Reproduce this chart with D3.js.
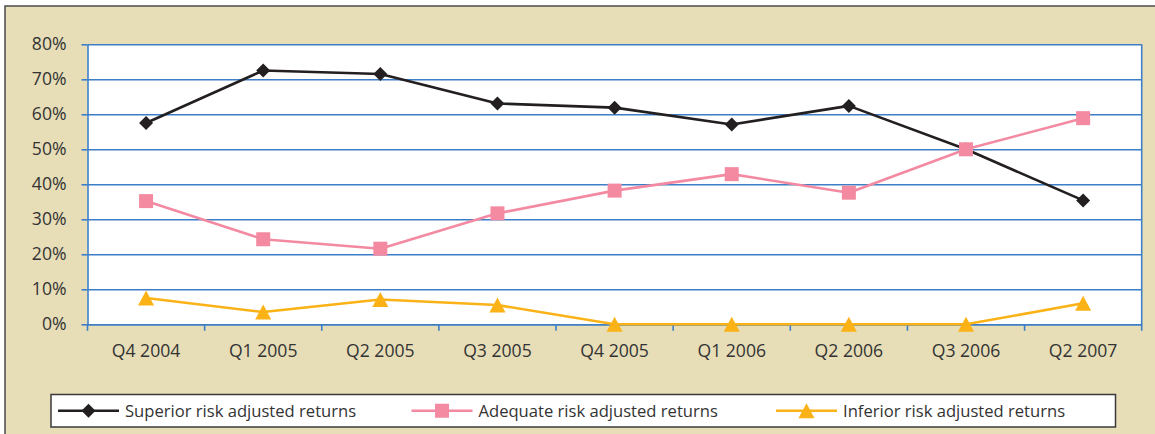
<!DOCTYPE html>
<html>
<head>
<meta charset="utf-8">
<script src="https://cdn.jsdelivr.net/npm/d3@7"></script>
<style>
  html, body { margin: 0; padding: 0; background: #ffffff; }
  svg { display: block; }
  text { font-family: "Open Sans", "Noto Sans", sans-serif; fill: #333333; }
</style>
</head>
<body>
<svg id="chart" width="1155" height="434"></svg>
<script>
// Quarterly share of funds by risk-adjusted return group (percent)
const categories = ["Q4 2004", "Q1 2005", "Q2 2005", "Q3 2005", "Q4 2005", "Q1 2006", "Q2 2006", "Q3 2006", "Q2 2007"];
const superior = [57.5, 72.5, 71.5, 63.1, 61.9, 57.1, 62.4, 50.0, 35.4];
const adequate = [35.2, 24.3, 21.6, 31.7, 38.2, 42.9, 37.6, 50.0, 58.9];
const inferior = [7.5, 3.5, 7.1, 5.5, 0, 0, 0, 0, 6.0];
const seriesNames = ["Superior risk adjusted returns", "Adequate risk adjusted returns", "Inferior risk adjusted returns"];
const yTicks = [0, 10, 20, 30, 40, 50, 60, 70, 80];

const svg = d3.select("#chart");

// frame
const frame = { x: 5, y: 6 };
svg.append("rect")
  .attr("x", frame.x).attr("y", frame.y)
  .attr("width", 1155 - frame.x + 2).attr("height", 434 - frame.y + 2)
  .attr("fill", "#e7deb8")
  .attr("stroke", "#4a4a4a").attr("stroke-width", 1.5);

// plot area
const plot = { left: 87.5, right: 1141.7, top: 44.3, bottom: 324.3 };

const x = d3.scaleBand().domain(categories).range([plot.left, plot.right]).padding(0);
const y = d3.scaleLinear().domain([0, 80]).range([plot.bottom, plot.top]);

svg.append("rect")
  .attr("x", plot.left).attr("y", plot.top)
  .attr("width", plot.right - plot.left).attr("height", plot.bottom - plot.top)
  .attr("fill", "#ffffff");

const gridColor = "#3d7fc6";
const axisFont = 17.6;

// horizontal gridlines
svg.append("g")
  .attr("transform", `translate(${plot.left},0)`)
  .call(d3.axisLeft(y).tickValues(yTicks).tickSizeInner(-(plot.right - plot.left)).tickSizeOuter(0).tickFormat(""))
  .call(g => g.select(".domain").remove())
  .call(g => g.selectAll("line").attr("stroke", gridColor).attr("stroke-width", 1.6));

// y axis with outward ticks and labels
svg.append("g")
  .attr("transform", `translate(${plot.left},0)`)
  .call(d3.axisLeft(y).tickValues(yTicks).tickSizeInner(6).tickSizeOuter(0).tickPadding(15).tickFormat(d => d + "%"))
  .call(g => g.select(".domain").attr("stroke", gridColor).attr("stroke-width", 1.6))
  .call(g => g.selectAll("line").attr("stroke", gridColor).attr("stroke-width", 1.6))
  .call(g => g.selectAll("text").attr("font-size", axisFont).attr("font-family", null).attr("fill", "#333333"));

// right border of plot area
svg.append("line")
  .attr("x1", plot.right).attr("x2", plot.right)
  .attr("y1", plot.top).attr("y2", plot.bottom)
  .attr("stroke", gridColor).attr("stroke-width", 1.6);

// x axis: labels centred on categories, ticks on category boundaries
const xAxis = svg.append("g")
  .attr("transform", `translate(0,${plot.bottom})`)
  .call(d3.axisBottom(x).tickSizeInner(0).tickSizeOuter(0).tickPadding(20.5))
  .call(g => g.select(".domain").attr("stroke", gridColor).attr("stroke-width", 1.6))
  .call(g => g.selectAll("text").attr("font-size", axisFont).attr("font-family", null).attr("fill", "#333333"));

const boundaries = categories.map(c => x(c)).concat([x.range()[1]]);
xAxis.selectAll("line.boundary")
  .data(boundaries)
  .join("line")
  .attr("class", "boundary")
  .attr("x1", d => d).attr("x2", d => d)
  .attr("y1", 0).attr("y2", 6.5)
  .attr("stroke", gridColor).attr("stroke-width", 1.6);

// marker shapes
const shapes = {
  diamond: s => `M0,${-s}L${s},0L0,${s}L${-s},0Z`,
  square: s => `M${-s},${-s}H${s}V${s}H${-s}Z`,
  triangle: s => `M0,${-s}L${s * 1.07},${s}L${-s * 1.07},${s}Z`
};

const series = [
  { name: seriesNames[0], values: superior, color: "#231f20", shape: "diamond", size: 7 },
  { name: seriesNames[1], values: adequate, color: "#f38aa1", shape: "square", size: 7 },
  { name: seriesNames[2], values: inferior, color: "#fbb216", shape: "triangle", size: 7.5 }
];

const line = d3.line()
  .x((d, i) => x(categories[i]) + x.bandwidth() / 2)
  .y(d => y(d));

series.forEach(s => {
  const g = svg.append("g");
  g.append("path")
    .attr("d", line(s.values))
    .attr("fill", "none")
    .attr("stroke", s.color)
    .attr("stroke-width", 2.6)
    .attr("stroke-linejoin", "round");
  g.selectAll("path.marker")
    .data(s.values)
    .join("path")
    .attr("class", "marker")
    .attr("transform", (d, i) => `translate(${x(categories[i]) + x.bandwidth() / 2},${y(d)})`)
    .attr("d", shapes[s.shape](s.size))
    .attr("fill", s.color);
});

// legend
const legend = { x: 51, y: 394.5, w: 1064.5, h: 32.5 };
svg.append("rect")
  .attr("x", legend.x).attr("y", legend.y)
  .attr("width", legend.w).attr("height", legend.h)
  .attr("fill", "#ffffff")
  .attr("stroke", "#3a3a3a").attr("stroke-width", 1.5);

const legendX = [58, 411.5, 776];
const cy = legend.y + legend.h / 2;
series.forEach((s, i) => {
  const g = svg.append("g").attr("transform", `translate(${legendX[i]},${cy})`);
  g.append("line")
    .attr("x1", 0).attr("x2", 61)
    .attr("stroke", s.color).attr("stroke-width", 2.6);
  g.append("path")
    .attr("transform", "translate(30.5,0)")
    .attr("d", shapes[s.shape](s.size))
    .attr("fill", s.color);
  g.append("text")
    .attr("x", 67)
    .attr("dy", "0.35em")
    .attr("font-size", 16.6)
    .text(s.name);
});
</script>
</body>
</html>
